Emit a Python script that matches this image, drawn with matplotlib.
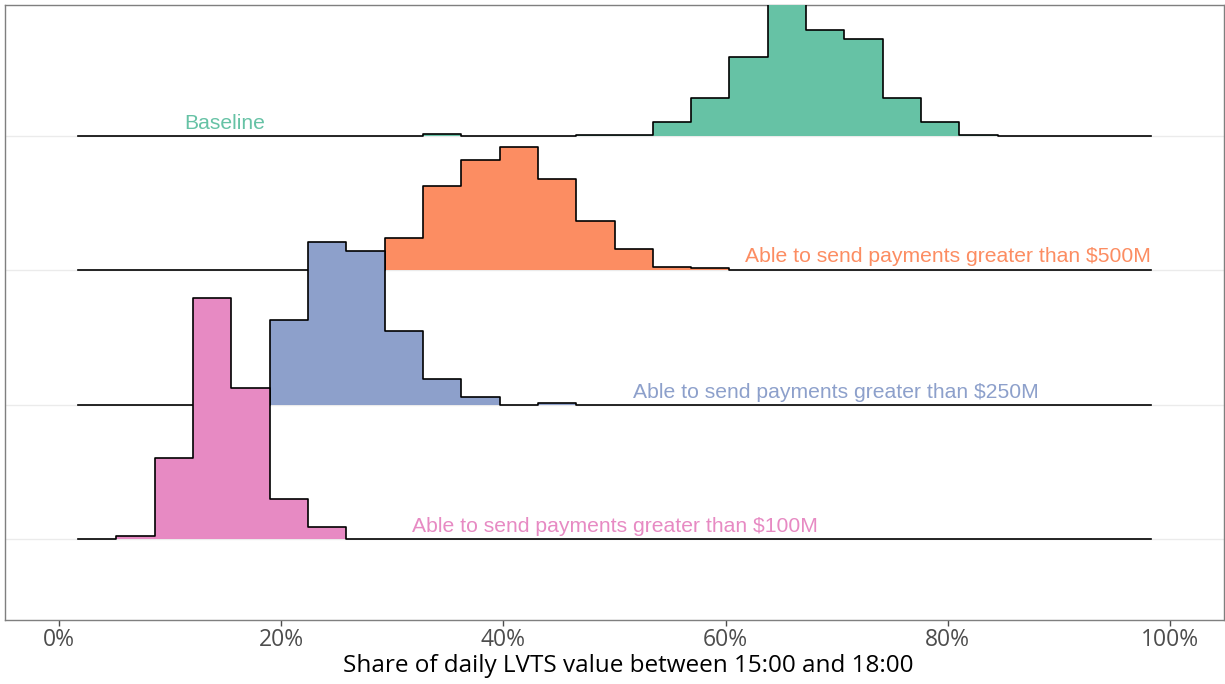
import matplotlib
matplotlib.use("Agg")
import matplotlib.pyplot as plt
import numpy as np

# Histogram bins (share of daily value, %): 28 bins from 1.7% to 98.3%
bin_lo = 1.7
bin_hi = 98.3
n_bins = 28

groups = ["Able to send payments greater than $100M",
          "Able to send payments greater than $250M",
          "Able to send payments greater than $500M",
          "Baseline"]
colors = ["#e78ac3", "#8da0cb", "#fc8d62", "#66c2a5"]

# Day counts per bin for each scenario (leading bin index, counts)
start_100 = 1
counts_100 = [1.6, 40.5, 120.5, 75.5, 20, 6]
start_250 = 5
counts_250 = [42.5, 81.5, 77, 37, 13, 4, 0, 1]
start_500 = 8
counts_500 = [16, 42, 55, 61.5, 45.5, 24.5, 10.5, 1.6, 1]
start_base = 9
counts_base = [1, 0, 0, 0, 0.5, 0.5, 7, 19, 39.5, 70, 53, 48.5, 19, 7, 0.5]

starts = [start_100, start_250, start_500, start_base]
counts = [counts_100, counts_250, counts_500, counts_base]

ridge_scale = 2 / 134.3   # height of one day-count in ridge units

edges = np.linspace(bin_lo, bin_hi, n_bins + 1)

fig = plt.figure(figsize=(12.25, 6.84), dpi=100)
ax = fig.add_axes([5 / 1225, 1 - 620 / 684, 1219 / 1225, 615 / 684])

# draw top ridge first so lower ridges overlap it
for i in range(len(groups) - 1, -1, -1):
    h = np.zeros(n_bins)
    h[starts[i]:starts[i] + len(counts[i])] = counts[i]
    h = h * ridge_scale
    y = i + np.append(h, h[-1])
    z = 10 + (len(groups) - i) * 2
    ax.fill_between(edges, i, y, step="post", color=colors[i], lw=0, zorder=z)
    ax.step(edges, y, where="post", color="black", lw=1.2, zorder=z + 1)

for i in range(len(groups)):
    ax.axhline(i, color="#ebebeb", lw=1.0, zorder=1)

lab_kw = dict(fontsize=15.2, family="Liberation Sans", va="baseline", zorder=30)
ax.text(14.9, 3.05, "Baseline", color=colors[3], ha="center", **lab_kw)
ax.text(98.3, 2.06, groups[2], color=colors[2], ha="right", **lab_kw)
ax.text(69.9, 1.052, groups[1], color=colors[1], ha="center", **lab_kw)
ax.text(50.0, 0.052, groups[0], color=colors[0], ha="center", **lab_kw)

ax.set_xlim(-4.86, 104.86)
ax.set_ylim(-0.603, 3.976)
ax.set_yticks([])
ax.set_xticks([0, 20, 40, 60, 80, 100])
ax.set_xticklabels(["0%", "20%", "40%", "60%", "80%", "100%"],
                   family="Open Sans", fontsize=16.5, color="#4d4d4d")
ax.tick_params(axis="x", length=4, width=1, color="#4d4d4d", pad=2)
for s in ax.spines.values():
    s.set_color("#7f7f7f")
    s.set_linewidth(1.0)

fig.text(628.5 / 1225, 1 - 666 / 684, "Share of daily LVTS value between 15:00 and 18:00",
         family="Open Sans", fontsize=17.5, color="black", ha="center", va="center")

fig.savefig("out.png", dpi=100)
